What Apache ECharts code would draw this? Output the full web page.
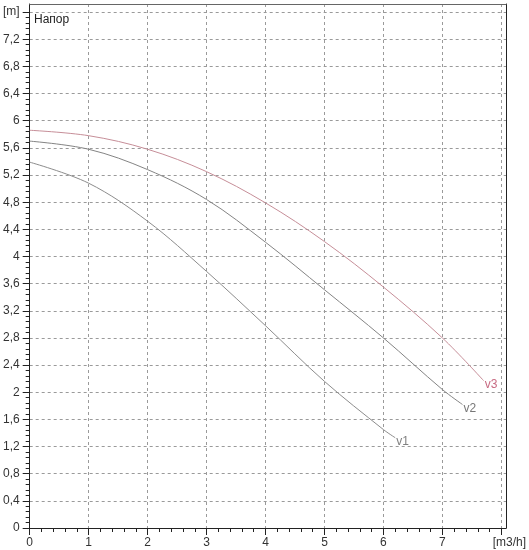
<!DOCTYPE html>
<html>
<head>
<meta charset="utf-8">
<script src="https://cdn.jsdelivr.net/npm/echarts@6/dist/echarts.min.js"></script>
<style>
html,body{margin:0;padding:0;background:#fff;}
#chart{width:529px;height:550px;}
</style>
</head>
<body>
<div id="chart"></div>
<script>
// ---- data ----
const seriesNames = ['v1', 'v2', 'v3'];
const v1X = [0, 1, 2, 3, 4, 5, 6, 6.2];
const v1Y = [5.39, 5.08, 4.52, 3.78, 2.98, 2.16, 1.45, 1.33];
const v2X = [0, 1, 2, 3, 4, 5, 6, 7, 7.34];
const v2Y = [5.70, 5.58, 5.28, 4.84, 4.21, 3.51, 2.80, 2.04, 1.82];
const v3X = [0, 1, 2, 3, 4, 5, 6, 7, 7.7];
const v3Y = [5.86, 5.78, 5.58, 5.25, 4.79, 4.22, 3.55, 2.80, 2.17];
const xTickValues = [0, 1, 2, 3, 4, 5, 6, 7, 8];
const yTickValues = [0, 0.4, 0.8, 1.2, 1.6, 2, 2.4, 2.8, 3.2, 3.6, 4, 4.4, 4.8, 5.2, 5.6, 6, 6.4, 6.8, 7.2, 7.6];
const xUnitLabel = '[m3/h]';
const yUnitLabel = '[m]';
const chartTitle = 'Напор';

// ---- helpers ----
function pairs(xs, ys) { return xs.map((x, i) => [x, ys[i]]); }
function minors(step, max, majors) {
  const out = [];
  for (let i = 0; i * step <= max + 1e-9; i++) {
    const v = +(i * step).toFixed(4);
    if (!majors.some(m => Math.abs(m - v) < 1e-6)) out.push(v);
  }
  return out;
}
const xMinor = minors(0.2, 8, xTickValues);
const yMinor = minors(0.08, 7.6, yTickValues);

const XMAX = 8.08, YMAX = 7.72;
const font = 'Liberation Sans, Arial, sans-serif';
const gridLine = { show: true, lineStyle: { color: '#9a9a9a', type: [3, 3], width: 1 } };

const chart = echarts.init(document.getElementById('chart'), null, { renderer: 'canvas' });
const colors = ['#8c8c8c', '#848484', '#c68e98'];
const labelColors = ['#808080', '#777777', '#c86a82'];
const data = [pairs(v1X, v1Y), pairs(v2X, v2Y), pairs(v3X, v3Y)];

chart.setOption({
  animation: false,
  backgroundColor: '#fff',
  title: {
    text: chartTitle, left: 29, top: 9,
    textStyle: { fontFamily: font, fontSize: 12, fontWeight: 'normal', color: '#222' }
  },
  grid: { left: 27, right: 20, top: 4, bottom: 22, containLabel: false },
  xAxis: [
    {
      type: 'value', position: 'bottom', min: 0, max: XMAX,
      axisLine: { show: true, onZero: false, lineStyle: { color: '#222', width: 1 } },
      axisTick: { show: true, inside: false, length: 7, customValues: xTickValues, lineStyle: { color: '#222' } },
      axisLabel: {
        show: true, customValues: xTickValues, margin: 9,
        fontFamily: font, fontSize: 12, color: '#333',
        formatter: v => Math.abs(v - 8) < 1e-6 ? '{u|' + xUnitLabel + '}' : String(v),
        rich: { u: { fontFamily: font, fontSize: 12, color: '#333', padding: [0, 0, 0, 16] } }
      },
      splitLine: gridLine
    },
    {
      type: 'value', position: 'bottom', min: 0, max: XMAX,
      axisLine: { show: false },
      axisTick: { show: true, length: 4, customValues: xMinor, lineStyle: { color: '#222' } },
      axisLabel: { show: false },
      splitLine: { show: false }
    },
    {
      type: 'value', position: 'top', min: 0, max: XMAX,
      axisLine: { show: true, onZero: false, lineStyle: { color: '#666', width: 1 } },
      axisTick: { show: false }, axisLabel: { show: false }, splitLine: { show: false }
    }
  ],
  yAxis: [
    {
      type: 'value', position: 'left', min: 0, max: YMAX,
      axisLine: { show: true, onZero: false, lineStyle: { color: '#222', width: 1 } },
      axisTick: { show: true, inside: false, length: 7, customValues: yTickValues, lineStyle: { color: '#222' } },
      axisLabel: {
        show: true, customValues: yTickValues, margin: 10,
        fontFamily: font, fontSize: 12, color: '#333',
        formatter: v => Math.abs(v - 7.6) < 1e-6 ? yUnitLabel : String(Number(v.toFixed(1))).replace('.', ',')
      },
      splitLine: gridLine
    },
    {
      type: 'value', position: 'left', min: 0, max: YMAX,
      axisLine: { show: false },
      axisTick: { show: true, length: 4, customValues: yMinor, lineStyle: { color: '#222' } },
      axisLabel: { show: false },
      splitLine: { show: false }
    },
    {
      type: 'value', position: 'right', min: 0, max: YMAX,
      axisLine: { show: true, onZero: false, lineStyle: { color: '#222', width: 1 } },
      axisTick: { show: false }, axisLabel: { show: false }, splitLine: { show: false }
    }
  ],
  series: seriesNames.map((name, i) => ({
    name: name,
    type: 'line',
    xAxisIndex: 0, yAxisIndex: 0,
    data: data[i],
    smooth: 0.35,
    showSymbol: false,
    symbol: 'none',
    lineStyle: { color: colors[i], width: 1 },
    itemStyle: { color: colors[i] },
    endLabel: {
      show: true, formatter: '{a}', distance: 0, offset: [1, 4],
      fontFamily: font, fontSize: 12, color: labelColors[i]
    },
    z: 3 + i
  }))
});
</script>
</body>
</html>
